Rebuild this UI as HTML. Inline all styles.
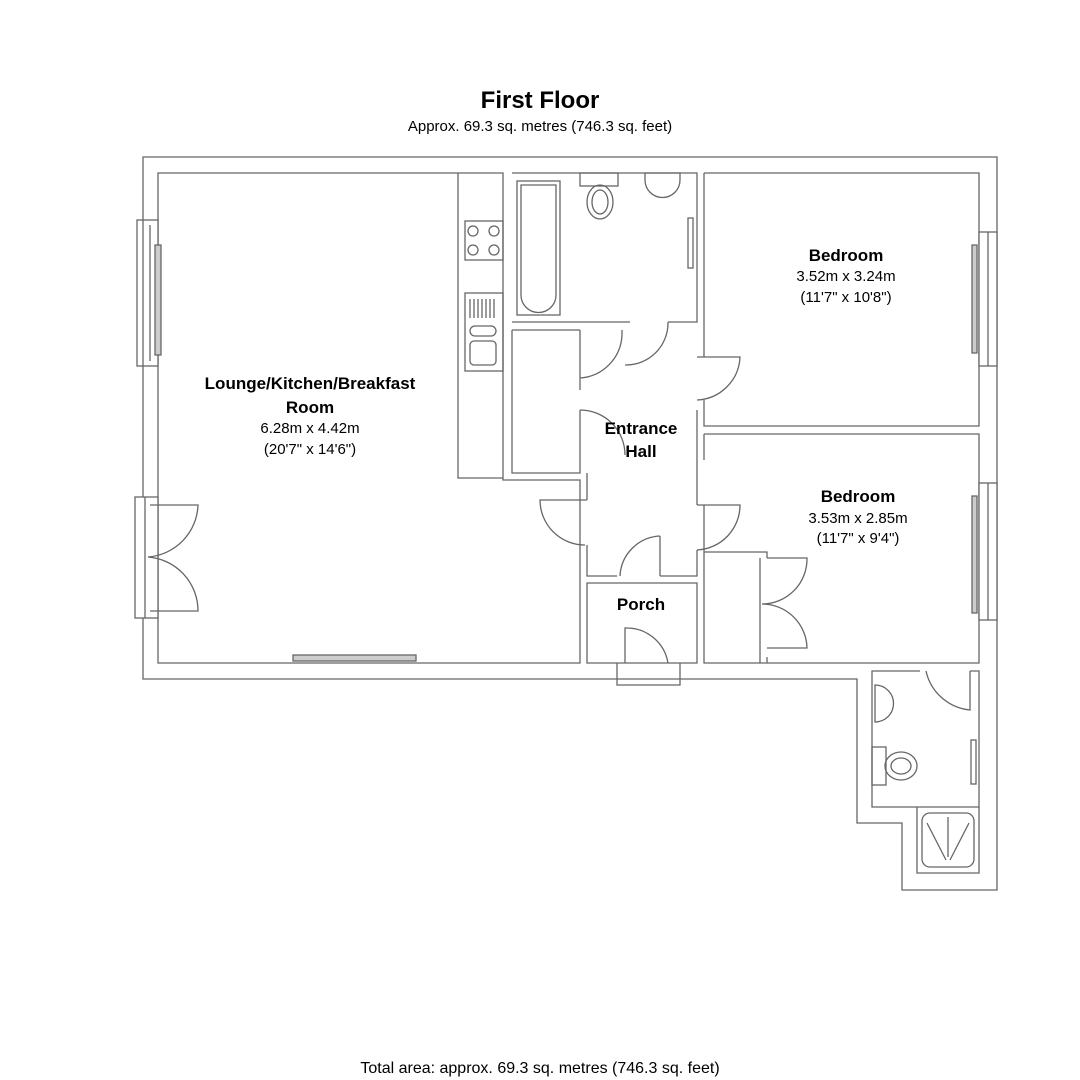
<!DOCTYPE html>
<html><head><meta charset="utf-8"><style>
html,body{margin:0;padding:0;background:#fff}
svg{display:block}
text{font-family:"Liberation Sans",Arial,sans-serif;fill:#000}
.b{font-weight:bold;font-size:17px}
.n{font-size:15px}
</style></head><body>
<svg width="1080" height="1080" viewBox="0 0 1080 1080" xmlns="http://www.w3.org/2000/svg">
<g fill="none" stroke="#666" stroke-width="1.3">
<path d="M143,157 H997 V890 H902 V823 H857 V679 H143 Z" fill="#fff"/>
<path d="M158,173 H503 V480 H580 V663 H158 Z"/>
<path d="M458,173 V478 H503"/>
<rect x="465" y="221" width="38" height="39"/>
<circle cx="473" cy="231" r="5"/><circle cx="494" cy="231" r="5"/><circle cx="473" cy="250" r="5"/><circle cx="494" cy="250" r="5"/>
<rect x="465" y="293" width="38" height="78"/>
<path d="M470,299 V318 M474,299 V318 M478,299 V318 M482,299 V318 M486,299 V318 M490,299 V318 M494,299 V318"/>
<rect x="470" y="326" width="26" height="10" rx="5"/>
<rect x="470" y="341" width="26" height="24" rx="4"/>
<path d="M512,173 H697 V322 H668 M630,322 H512 Z"/>
<rect x="517" y="181" width="43" height="134"/>
<path d="M521,185 H556 V295 A17,17 0 0 1 521,295 Z"/>
<rect x="580" y="173" width="38" height="13"/>
<ellipse cx="600" cy="202" rx="13" ry="17"/><ellipse cx="600" cy="202" rx="8" ry="12"/>
<path d="M645,173 H680 V180 A17,17 0 0 1 645,180 Z"/>
<rect x="688" y="218" width="5" height="50"/>
<path d="M512,330 H580 M622,330 V335 A45,45 0 0 1 580,378 M580,330 V390 M580,410 V473 H512 V330"/>
<path d="M580,410 A45,45 0 0 1 625,455"/>
<path d="M668,322 A42,42 0 0 1 625,365"/>
<path d="M587,473 V500 M587,545 V576 H617 M660,576 H697 V550 M697,505 V410"/>
<path d="M587,500 H540 A45,45 0 0 0 585,545"/>
<path d="M697,505 H740 A45,45 0 0 1 697,550"/>
<path d="M697,357 H740 A45,45 0 0 1 697,400"/>
<path d="M660,536 V576 M660,536 A42,42 0 0 0 620,576"/>
<path d="M587,583 H697 V663 H587 Z"/>
<path d="M617,663 V685 H680 V663 M625,663 V628 A42,42 0 0 1 668,663"/>
<path d="M704,173 H979 V426 H704 V400 M704,357 V173"/>
<path d="M704,434 H979 V663 H760 M704,434 V460 M704,505 V663 H760"/>
<path d="M704,552 H767 V558 M767,657 V663 M760,558 V663"/>
<path d="M767,558 H807 A45,45 0 0 1 762,604 A45,45 0 0 1 807,648 H767"/>
<!-- ensuite -->
<path d="M920,671 H872 V807 H979 V671 H970"/>
<path d="M917,807 V873 H979 V807"/>
<path d="M926,671 A50,50 0 0 0 970,710 V671"/>
<path d="M875,685 A18,18 0 0 1 875,722 Z"/>
<rect x="872" y="747" width="14" height="38"/>
<ellipse cx="901" cy="766" rx="16" ry="14"/><ellipse cx="901" cy="766" rx="10" ry="8"/>
<rect x="971" y="740" width="5" height="44"/>
<rect x="922" y="813" width="52" height="54" rx="8"/>
<path d="M927,823 L946,860 M948,817 V857 M969,823 L950,860"/>
<rect x="137" y="220" width="21" height="146" fill="#fff"/>
<path d="M143,220 V366 M150,225 V361"/>
<rect x="155" y="245" width="6" height="110" fill="#ccc"/>
<rect x="135" y="497" width="23" height="121" fill="#fff"/>
<path d="M145,497 V618"/>
<path d="M150,505 H198 A54,54 0 0 1 148,557 A54,54 0 0 1 198,611 H150"/>
<rect x="293" y="655" width="123" height="6" fill="#ccc"/>
<rect x="979" y="232" width="18" height="134" fill="#fff"/>
<path d="M988,232 V366"/>
<rect x="972" y="245" width="5" height="108" fill="#ccc"/>
<rect x="979" y="483" width="18" height="137" fill="#fff"/>
<path d="M988,483 V620"/>
<rect x="972" y="496" width="5" height="117" fill="#ccc"/>
</g>
<text x="540" y="108" text-anchor="middle" style="font-weight:bold;font-size:24px">First Floor</text>
<text x="540" y="131" text-anchor="middle" class="n">Approx.  69.3 sq. metres (746.3 sq. feet)</text>
<text x="310" y="389" text-anchor="middle" class="b">Lounge/Kitchen/Breakfast</text>
<text x="310" y="413" text-anchor="middle" class="b">Room</text>
<text x="310" y="433" text-anchor="middle" class="n">6.28m x 4.42m</text>
<text x="310" y="454" text-anchor="middle" class="n">(20'7" x 14'6")</text>
<text x="641" y="434" text-anchor="middle" class="b">Entrance</text>
<text x="641" y="457" text-anchor="middle" class="b">Hall</text>
<text x="846" y="261" text-anchor="middle" class="b">Bedroom</text>
<text x="846" y="281" text-anchor="middle" class="n">3.52m x 3.24m</text>
<text x="846" y="302" text-anchor="middle" class="n">(11'7" x 10'8")</text>
<text x="858" y="502" text-anchor="middle" class="b">Bedroom</text>
<text x="858" y="523" text-anchor="middle" class="n">3.53m x 2.85m</text>
<text x="858" y="543" text-anchor="middle" class="n">(11'7" x 9'4")</text>
<text x="641" y="610" text-anchor="middle" class="b">Porch</text>
<text x="540" y="1073" text-anchor="middle" style="font-size:16px">Total area: approx.  69.3 sq. metres (746.3 sq. feet)</text>
</svg>
</body></html>
